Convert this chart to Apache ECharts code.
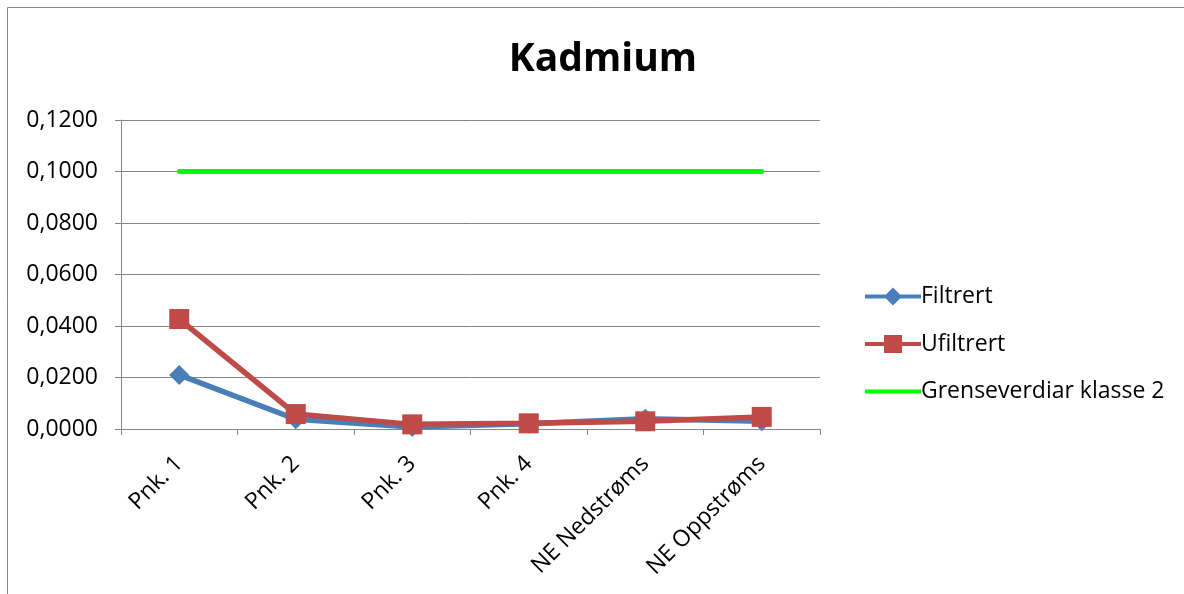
<!DOCTYPE html>
<html><head><meta charset="utf-8">
<script src="https://cdn.jsdelivr.net/npm/echarts@6/dist/echarts.min.js"></script>
<style>html,body{margin:0;padding:0;background:#fff}#c{width:1184px;height:594px}</style>
</head><body><div id="c"></div>
<script>
const categories = ['Pnk. 1','Pnk. 2','Pnk. 3','Pnk. 4','NE Nedstrøms','NE Oppstrøms'];
const filtrert = [0.0210, 0.0038, 0.0008, 0.0020, 0.0040, 0.0030];
const ufiltrert = [0.0427, 0.0058, 0.0018, 0.0022, 0.0030, 0.0047];
const grense = [0.1, 0.1, 0.1, 0.1, 0.1, 0.1];
const yTicks = {min: 0, max: 0.12, interval: 0.02};
const FONT = '"Open Sans", sans-serif';
const chart = echarts.init(document.getElementById('c'));
chart.setOption({
  animation: false,
  backgroundColor: '#fff',
  graphic: [{type:'rect', shape:{x:7.5,y:7.5,width:1200,height:600}, style:{fill:'none', stroke:'#868686', lineWidth:1}}],
  title: {text:'Kadmium', left: 598, top: 35, textAlign:'center', textStyle:{fontFamily:FONT, fontSize:39, fontWeight:'bold', color:'#000'}},
  grid: {left:121, right:364, top:120, bottom:165},
  legend: {orient:'vertical', left:860, top:280, itemWidth:56, itemHeight:18, itemGap:24.5,
    textStyle:{fontFamily:FONT, fontSize:23, color:'#000', padding:[0,0,0,-5]},
    data:[
      {name:'Filtrert', icon:'path://M0,7 L56,7 L56,11 L0,11 Z M28,0 L37,9 L28,18 L19,9 Z'},
      {name:'Ufiltrert', icon:'path://M0,7 L56,7 L56,11 L0,11 Z M19,0 L37,0 L37,18 L19,18 Z'},
      {name:'Grenseverdiar klasse 2', icon:'path://M0,7 L56,7 L56,11 L0,11 Z M0,0 L0.01,0 Z M0,18 L0.01,18 Z'}
    ]},
  xAxis: {type:'category', data:categories, boundaryGap:true,
    axisLine:{lineStyle:{color:'#868686', width:1}},
    axisTick:{show:true, length:6, interval:0, lineStyle:{color:'#868686'}},
    axisLabel:{rotate:45, interval:0, margin:31, fontFamily:FONT, fontSize:23, color:'#000'}},
  yAxis: {type:'value', min:yTicks.min, max:yTicks.max, interval:yTicks.interval,
    axisLine:{show:true, lineStyle:{color:'#868686'}},
    axisTick:{show:true, length:6, lineStyle:{color:'#868686'}},
    splitLine:{lineStyle:{color:'#868686', width:1}},
    axisLabel:{margin:23, fontFamily:FONT, fontSize:23, color:'#000', formatter:v=>v.toFixed(4).replace('.',',')}},
  series: [
    {name:'Filtrert', type:'line', data:filtrert, symbol:'diamond', symbolSize:20,
      lineStyle:{color:'#4a7ebb', width:5.5, cap:'round'}, itemStyle:{color:'#4a7ebb'}},
    {name:'Ufiltrert', type:'line', data:ufiltrert, symbol:'rect', symbolSize:20,
      lineStyle:{color:'#be4b48', width:5.5, cap:'round'}, itemStyle:{color:'#be4b48'}},
    {name:'Grenseverdiar klasse 2', type:'line', data:grense, symbol:'none',
      lineStyle:{color:'#00ff00', width:5, cap:'round'}, itemStyle:{color:'#00ff00'}}
  ]
});
</script></body></html>
